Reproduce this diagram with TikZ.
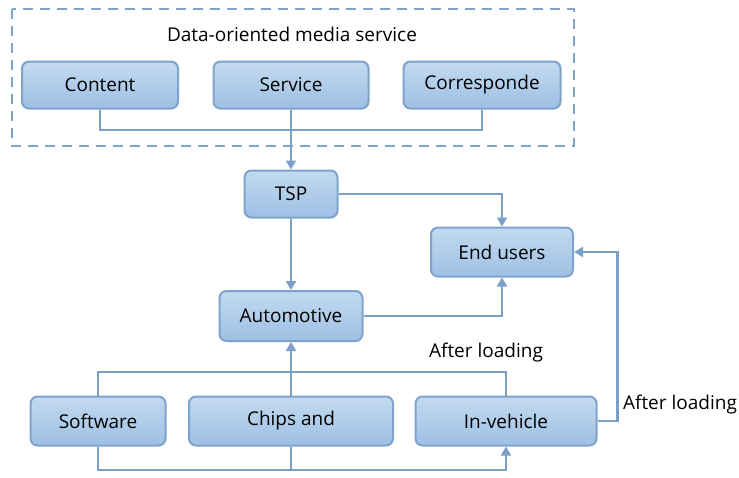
\documentclass[tikz,border=0pt]{standalone}
\usepackage{fontspec}
\setmainfont{Open Sans}
\usetikzlibrary{arrows.meta}
\definecolor{boxtop}{HTML}{C3DAF0}
\definecolor{boxbot}{HTML}{9DC0E4}
\definecolor{boxline}{HTML}{7FA3CB}
\definecolor{conn}{HTML}{7C9FC7}
\tikzset{
  blk/.style={draw=boxline, line width=2pt, rounded corners=7pt, top color=boxtop, bottom color=boxbot,
    font=\fontsize{19}{22}\selectfont, text=black, inner sep=0pt},
  conline/.style={draw=conn, line width=2.6pt},
  arr/.style={conline, -{Triangle[width=10pt,length=9pt]}},
  lbl/.style={font=\fontsize{19}{22}\selectfont, inner sep=0pt}
}
\begin{document}
\begin{tikzpicture}[x=1pt,y=-1pt]
\useasboundingbox (0,0) rectangle (739,477);
\draw[draw=boxline, line width=2.6pt, dash pattern=on 10pt off 7pt] (12,9) rectangle (574,146);
\node[lbl] (title) at (292,34) {Data-oriented media service};
\node[blk, minimum width=156pt, minimum height=47pt] (content) at (100,85) {Content};
\node[blk, minimum width=155pt, minimum height=47pt] (service) at (291,85) {Service};
\node[blk, minimum width=157pt, minimum height=47pt] (corr) at (482,85) {Corresponde};
\node[blk, minimum width=93pt, minimum height=47pt] (tsp) at (291,194) {TSP};
\node[blk, minimum width=142pt, minimum height=49pt] (end) at (502,252) {End users};
\node[blk, minimum width=143pt, minimum height=50pt] (auto) at (291,316) {Automotive};
\node[blk, minimum width=135pt, minimum height=49pt] (soft) at (98,421) {Software};
\node[blk, minimum width=204pt, minimum height=49pt] (chips) at (291,421) {Chips and};
\node[blk, minimum width=181pt, minimum height=49pt] (inv) at (506,421) {In-vehicle};
\node[lbl] (al1) at (486,353) {After loading};
\node[lbl] (al2) at (680,405) {After loading};
\coordinate (jtop) at (291,130);
\coordinate (jbot) at (291,470);
\coordinate (jmid) at (291,372);
% top group
\draw[conline] (content.south) |- (jtop) -| (corr.south);
\draw[arr] (service.south) -- (tsp.north);
% TSP
\draw[arr] (tsp.east) -| (end.north);
\draw[arr] (tsp.south) -- (auto.north);
\draw[arr] (auto.east) -| (end.south);
% bottom
\draw[conline] (soft.north) |- (jmid) -| (inv.north);
\draw[arr] (chips.north) -- (auto.south);
\draw[conline] (soft.south) |- (jbot);
\draw[conline] (chips.south) -- (jbot);
\draw[arr] (jbot) -| (inv.south);
\draw[arr] (inv.east) -- ++(20,0) |- (end.east);
\end{tikzpicture}
\end{document}
